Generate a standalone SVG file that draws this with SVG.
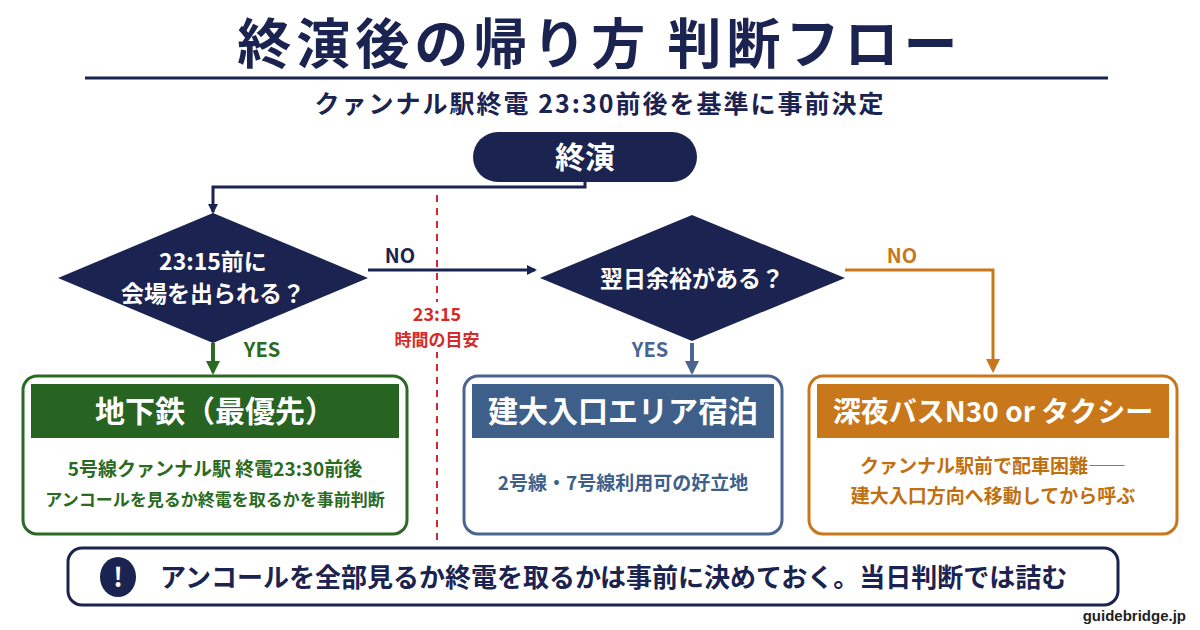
<svg xmlns="http://www.w3.org/2000/svg" width="1200" height="630" viewBox="0 0 1200 630">
<defs>
<style>
text{font-family:"Noto Sans CJK JP","Noto Sans",sans-serif;font-weight:700;text-anchor:middle}
.w{fill:#fff}
.n{fill:#1b2350}
</style>
<marker id="an" markerWidth="10" markerHeight="10" refX="8" refY="5" orient="auto" markerUnits="userSpaceOnUse"><path d="M0,0 L10,5 L0,10z" fill="#1b2350"/></marker>
<marker id="ag" markerWidth="14" markerHeight="14" refX="11" refY="7" orient="auto" markerUnits="userSpaceOnUse"><path d="M0,0 L14,7 L0,14z" fill="#2b6a22"/></marker>
<marker id="ab" markerWidth="14" markerHeight="14" refX="11" refY="7" orient="auto" markerUnits="userSpaceOnUse"><path d="M0,0 L14,7 L0,14z" fill="#4a6690"/></marker>
<marker id="ao" markerWidth="14" markerHeight="14" refX="11" refY="7" orient="auto" markerUnits="userSpaceOnUse"><path d="M0,0 L14,7 L0,14z" fill="#c8781a"/></marker>
</defs>
<rect width="1200" height="630" fill="#fff"/>
<text x="600" y="64" font-size="54" font-weight="900" letter-spacing="5" class="n">終演後の帰り方 判断フロー</text>
<line x1="85" y1="78" x2="1108" y2="78" stroke="#1b2350" stroke-width="3"/>
<text x="600" y="113" font-size="25" letter-spacing="2" class="n">クァンナル駅終電 23:30前後を基準に事前決定</text>
<g id="connectors" fill="none" stroke-width="3">
<path d="M585,182 V187 H213 V212" stroke="#1b2350" marker-end="url(#an)"/>
<path d="M368,270 H535" stroke="#1b2350" marker-end="url(#an)"/>
<path d="M845,270 H993 V370" stroke="#c8781a" marker-end="url(#ao)"/>
<path d="M213,343 V372" stroke="#2b6a22" stroke-width="4" marker-end="url(#ag)"/>
<path d="M692,343 V372" stroke="#4a6690" stroke-width="4" marker-end="url(#ab)"/>
<line x1="437" y1="195" x2="437" y2="540" stroke="#d42a2a" stroke-width="2" stroke-dasharray="7,6"/>
</g>
<rect x="385" y="302" width="104" height="50" fill="#fff"/>
<text x="400" y="263" font-size="20" class="n">NO</text>
<text x="902" y="263" font-size="20" fill="#c8781a">NO</text>
<text x="262" y="357" font-size="20" fill="#2b6a22">YES</text>
<text x="650" y="357" font-size="20" fill="#4a6690">YES</text>
<text x="437" y="321" font-size="18" fill="#d42a2a">23:15</text>
<text x="437" y="346" font-size="17" fill="#d42a2a">時間の目安</text>
<g id="start"><rect x="473" y="132" width="224" height="50" rx="25" fill="#1b2350"/><text x="585" y="168" font-size="30" class="w">終演</text></g>
<g id="d1"><path d="M213,213 L368,278 L213,343 L58,278z" fill="#1b2350"/><text x="213" y="270" font-size="23" class="w">23:15前に</text><text x="213" y="302" font-size="23" class="w">会場を出られる？</text></g>
<g id="d2"><path d="M692,215 L845,278 L692,341 L540,278z" fill="#1b2350"/><text x="692" y="287" font-size="23" class="w">翌日余裕がある？</text></g>
<g id="b1"><rect x="23" y="376" width="384" height="158" rx="14" fill="#fff" stroke="#2b6a22" stroke-width="3"/><path d="M31,384 H399 V438 H31z" fill="#276321"/><text x="215" y="422" font-size="30" class="w">地下鉄（最優先）</text><text x="215" y="476" font-size="19" fill="#2b6a22">5号線クァンナル駅 終電23:30前後</text><text x="215" y="506" font-size="17" fill="#2b6a22">アンコールを見るか終電を取るかを事前判断</text></g>
<g id="b2"><rect x="464" y="376" width="318" height="158" rx="14" fill="#fff" stroke="#4a6690" stroke-width="3"/><path d="M472,384 H774 V438 H472z" fill="#3e5f8a"/><text x="623" y="422" font-size="30" class="w">建大入口エリア宿泊</text><text x="623" y="490" font-size="19" fill="#3e5f8a">2号線・7号線利用可の好立地</text></g>
<g id="b3"><rect x="809" y="376" width="368" height="158" rx="14" fill="#fff" stroke="#c8781a" stroke-width="3"/><path d="M817,384 H1169 V438 H817z" fill="#c8781a"/><text x="993" y="422" font-size="28" class="w">深夜バスN30 or タクシー</text><text x="993" y="473" font-size="19" fill="#c0700f">クァンナル駅前で配車困難――</text><text x="993" y="503" font-size="19" fill="#c0700f">建大入口方向へ移動してから呼ぶ</text></g>
<g id="note"><rect x="68" y="548" width="1050" height="57" rx="14" fill="#fff" stroke="#1b2350" stroke-width="3"/><ellipse cx="118" cy="577" rx="18" ry="20" fill="#1b2350"/><text x="118" y="587" font-size="26" class="w">!</text><text x="160" y="587" font-size="26" class="n" style="text-anchor:start">アンコールを全部見るか終電を取るかは事前に決めておく。当日判断では詰む</text></g>
<text x="1186" y="621" font-size="15" fill="#222" style="text-anchor:end;font-family:'Liberation Sans',sans-serif">guidebridge.jp</text>
</svg>
